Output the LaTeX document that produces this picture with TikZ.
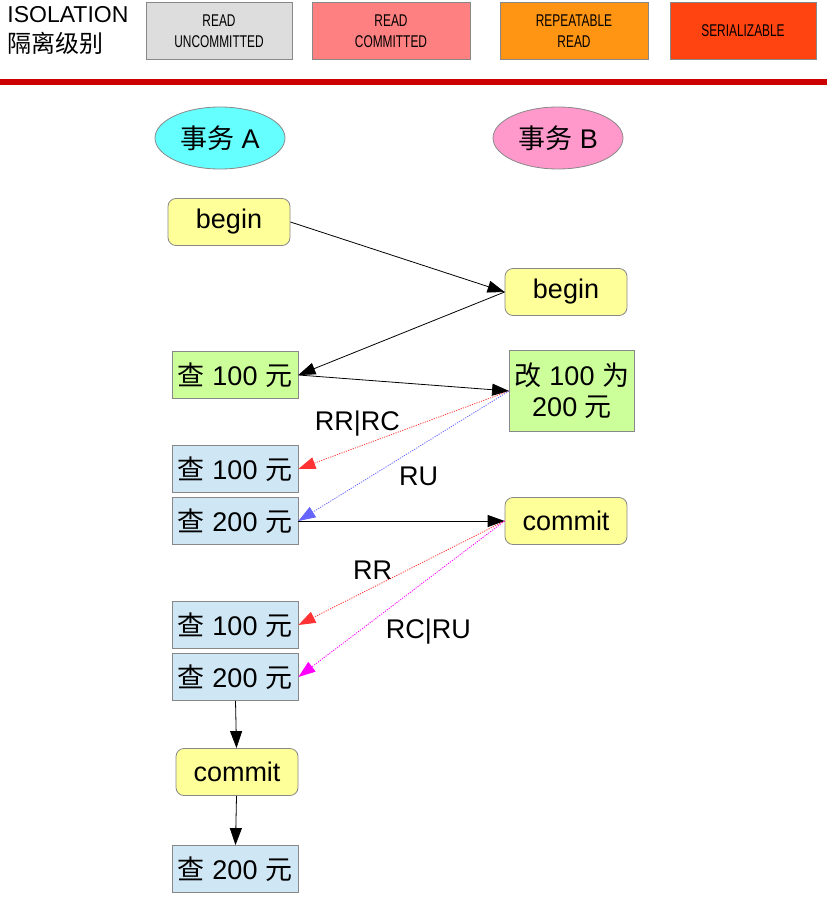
\documentclass[tikz,border=0pt]{standalone}
\usepackage{fontspec}
\setmainfont{Liberation Sans}
\newfontfamily\cjk{Noto Sans CJK SC}
\newfontfamily\narrowsf[FakeStretch=0.7]{Liberation Sans}
\newcommand{\zh}[1]{{\cjk #1}}
\usetikzlibrary{arrows.meta,shapes.geometric}

\definecolor{boxgray}{HTML}{888888}
\definecolor{yellowfill}{HTML}{FFFF99}
\definecolor{greenfill}{HTML}{CCFF99}
\definecolor{bluefill}{HTML}{CFE6F4}
\definecolor{cyanfill}{HTML}{66FFFF}
\definecolor{pinkfill}{HTML}{FF99CC}
\definecolor{rufill}{HTML}{DDDDDD}
\definecolor{rcfill}{HTML}{FF8080}
\definecolor{rrfill}{HTML}{FF9512}
\definecolor{serfill}{HTML}{FF4411}
\definecolor{barred}{HTML}{CC0000}
\definecolor{redline}{HTML}{FF3333}
\definecolor{blueline}{HTML}{6666FF}
\definecolor{magline}{HTML}{FF00FF}

\begin{document}
\begin{tikzpicture}[x=1pt, y=-1pt, >={Triangle[length=17pt,width=12pt]}, line width=0.8pt,
    every node/.style={font=\fontsize{27}{31}\selectfont},
    stepbase/.style={draw=boxgray, minimum width=126pt, minimum height=47pt, inner sep=0pt},
    yellowbox/.style={stepbase, fill=yellowfill, rounded corners=8pt, minimum width=122pt},
    greenbox/.style={stepbase, fill=greenfill},
    bluebox/.style={stepbase, fill=bluefill},
    txn/.style={ellipse, draw=boxgray, minimum width=130pt, minimum height=62pt, inner sep=0pt},
    levelbox/.style={draw=boxgray, minimum height=57pt, inner sep=0pt, align=center,
                     font=\narrowsf\fontsize{17}{21}\selectfont},
    dotline/.style={dash pattern=on 1.2pt off 1.2pt}]
    \useasboundingbox (0,0) rectangle (827,904);

    % isolation levels
    \node[align=left, anchor=west, inner sep=0pt, font=\fontsize{23}{30}\selectfont]
                                     (iso)   at (7,30)      {ISOLATION\\{\cjk\fontsize{24}{30}\selectfont 隔离级别}};
    \node[levelbox, fill=rufill,  minimum width=146pt] (ru)  at (219,31) {READ\\UNCOMMITTED};
    \node[levelbox, fill=rcfill,  minimum width=158pt] (rc)  at (391,31) {READ\\COMMITTED};
    \node[levelbox, fill=rrfill,  minimum width=148pt] (rr)  at (574,31) {REPEATABLE\\READ};
    \node[levelbox, fill=serfill, minimum width=146pt] (ser) at (743,31) {SERIALIZABLE};
    \fill[barred] (0,79) rectangle (827,85);

    % transactions
    \node[txn, fill=cyanfill]        (txA)     at (220,138)   {\zh{事务} A};
    \node[txn, fill=pinkfill]        (txB)     at (558,138)   {\zh{事务} B};

    \node[yellowbox]                 (beginA)  at (229,222)   {begin};
    \node[yellowbox]                 (beginB)  at (566,292)   {begin};
    \node[greenbox]                  (readA1)  at (235,375)   {\zh{查} 100 \zh{元}};
    \node[greenbox, minimum width=125pt, minimum height=81pt, align=center]
                                     (update)  at (572,391)   {\zh{改} 100 \zh{为}\\200 \zh{元}};
    \node[bluebox]                   (readA2)  at (235,469)   {\zh{查} 100 \zh{元}};
    \node[bluebox]                   (readA3)  at (235,521)   {\zh{查} 200 \zh{元}};
    \node[yellowbox]                 (commitB) at (566,521)   {commit};
    \node[bluebox]                   (readA4)  at (235,625)   {\zh{查} 100 \zh{元}};
    \node[bluebox]                   (readA5)  at (235,677)   {\zh{查} 200 \zh{元}};
    \node[yellowbox]                 (commitA) at (237,772)   {commit};
    \node[bluebox]                   (readA6)  at (235,869)   {\zh{查} 200 \zh{元}};

    \path[->]   (beginA.east)   edge                        (beginB.west)
                (beginB.west)   edge                        (readA1.east)
                (readA1.east)   edge                        (update.west)
                (update.west)   edge [draw=redline, dotline]  node[pos=0.72, yshift=24pt]  {RR|RC}  (readA2.east)
                                edge [draw=blueline, dotline] node[pos=0.43, yshift=-29pt] {RU}     (readA3.east)
                (readA3.east)   edge                        (commitB.west)
                (commitB.west)  edge [draw=redline, dotline]  node[pos=0.64, yshift=17pt]  {RR}     (readA4.east)
                                edge [draw=magline, dotline]  node[pos=0.37, yshift=-53pt] {RC|RU}  (readA5.east)
                (readA5)        edge                        (commitA)
                (commitA)       edge                        (readA6);
\end{tikzpicture}
\end{document}
